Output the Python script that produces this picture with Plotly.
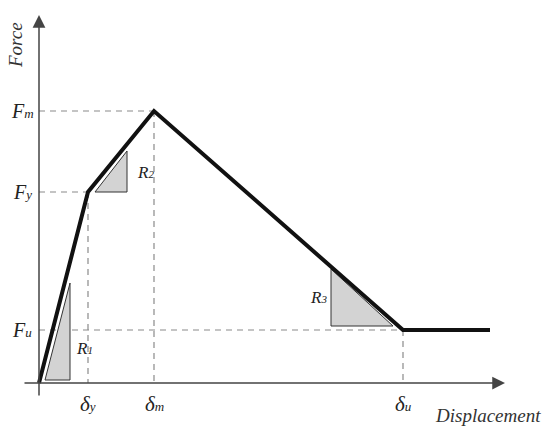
import plotly.graph_objects as go

# Key points of the force-displacement envelope
point_names = ["O", "y", "m", "u", "end"]
disp = [0, 4.9, 11.5, 36.4, 45.1]
force = [0, 19.1, 27.2, 5.3, 5.3]

# Stiffness triangles (R1, R2, R3)
tri_names = ["R", "R", "R"]
tri_subs = ["1", "2", "3"]
tri_x = [[0.6, 3.1, 3.1], [5.6, 8.8, 8.8], [29.2, 29.2, 35.4]]
tri_y = [[0.3, 0.3, 10.0], [19.1, 19.1, 23.2], [11.4, 5.7, 5.7]]
tri_label_x = [4.5, 10.6, 27.9]
tri_label_y = [3.5, 21.1, 8.6]

x_tick_main = ["δ", "δ", "δ"]
x_tick_subs = ["y", "m", "u"]
y_tick_main = ["F", "F", "F"]
y_tick_subs = ["y", "m", "u"]

font_fam = "Liberation Serif"
dash_col = "#8a8a8a"
axis_col = "#444444"


def sublabel(main, sub, size):
    return f"<i>{main}<span style='font-size:{size}px'>{sub}</span></i>"


fig = go.Figure()

# dashed guides
guide_idx = [1, 2, 3]
for i in guide_idx:
    fig.add_trace(go.Scatter(x=[0, disp[i]], y=[force[i], force[i]], mode="lines",
                             line=dict(color=dash_col, width=1.2, dash="6px,5px"),
                             hoverinfo="skip", showlegend=False))
    fig.add_trace(go.Scatter(x=[disp[i], disp[i]], y=[force[i], 0], mode="lines",
                             line=dict(color=dash_col, width=1.2, dash="6px,5px"),
                             hoverinfo="skip", showlegend=False))

# triangles
for tx, ty in zip(tri_x, tri_y):
    fig.add_trace(go.Scatter(x=tx + [tx[0]], y=ty + [ty[0]], mode="lines", fill="toself",
                             fillcolor="#d3d3d3", line=dict(color="#333333", width=1),
                             hoverinfo="skip", showlegend=False))

# envelope curve
fig.add_trace(go.Scatter(x=disp, y=force, mode="lines",
                         line=dict(color="#111111", width=4),
                         showlegend=False))

annotations = []
# axes with arrows
annotations.append(dict(x=46.6, y=0, ax=-1.6, ay=0, xref="x", yref="y", axref="x", ayref="y",
                        showarrow=True, arrowhead=2, arrowsize=1.7, arrowwidth=1.5,
                        arrowcolor=axis_col, text=""))
annotations.append(dict(x=0, y=36.8, ax=0, ay=-1.4, xref="x", yref="y", axref="x", ayref="y",
                        showarrow=True, arrowhead=2, arrowsize=1.7, arrowwidth=1.5,
                        arrowcolor=axis_col, text=""))

# tick labels
for m, s, i in zip(x_tick_main, x_tick_subs, [1, 2, 3]):
    annotations.append(dict(x=disp[i], y=-2.1, xref="x", yref="y", text=sublabel(m, s, 13),
                            showarrow=False, font=dict(family=font_fam, size=21, color="#222")))
for m, s, i in zip(y_tick_main, y_tick_subs, [1, 2, 3]):
    annotations.append(dict(x=-1.7, y=force[i], xref="x", yref="y", text=sublabel(m, s, 13),
                            showarrow=False, font=dict(family=font_fam, size=20, color="#222")))

# triangle labels
for m, s, lx, ly in zip(tri_names, tri_subs, tri_label_x, tri_label_y):
    annotations.append(dict(x=lx, y=ly, xref="x", yref="y", text=sublabel(m, s, 11),
                            showarrow=False, font=dict(family=font_fam, size=17, color="#222")))

# axis titles
annotations.append(dict(x=44.9, y=-3.2, xref="x", yref="y", text="<i>Displacement</i>",
                        showarrow=False, font=dict(family=font_fam, size=19, color="#333")))
annotations.append(dict(x=-2.4, y=33.8, xref="x", yref="y", text="<i>Force</i>", textangle=-90,
                        showarrow=False, font=dict(family=font_fam, size=19, color="#333")))

fig.update_layout(
    width=544, height=426,
    margin=dict(l=0, r=0, t=0, b=0),
    paper_bgcolor="white", plot_bgcolor="white",
    xaxis=dict(range=[-3.9, 50.5], visible=False, fixedrange=True),
    yaxis=dict(range=[-4.3, 38.3], visible=False, fixedrange=True),
    annotations=annotations,
    showlegend=False,
)

fig.write_html("out.html", config={"displayModeBar": False},
               post_script="document.body.style.margin='0';document.body.style.overflow='hidden';")
